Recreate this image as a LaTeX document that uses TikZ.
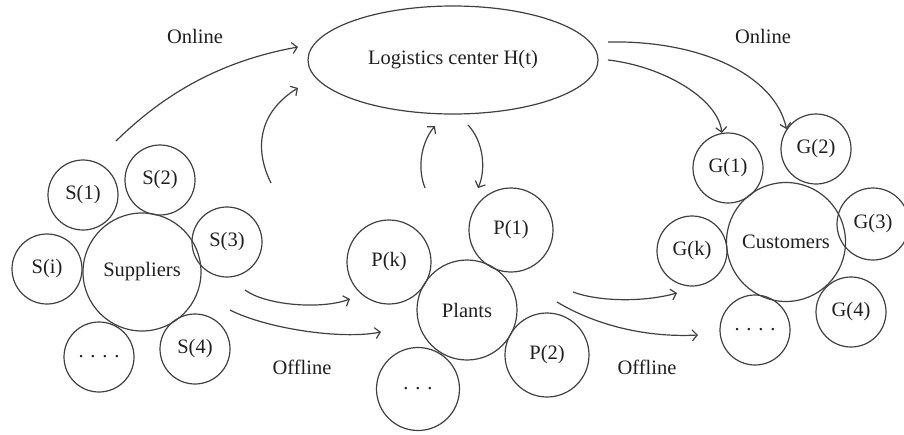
\documentclass[tikz,border=0pt]{standalone}
\usepackage{fontspec}
\setmainfont{Liberation Serif}
\usetikzlibrary{shapes.geometric,arrows.meta}
\begin{document}
\begin{tikzpicture}[x=1pt,y=-1pt,
  every node/.style={font=\fontsize{20.5}{24}\selectfont, text=black!88},
  bub/.style={draw=black!75, line width=1.2pt, circle, inner sep=0pt, minimum size=70pt},
  bigbub/.style={bub, minimum size=118pt},
  midbub/.style={bub, minimum size=84pt},
  hubstyle/.style={draw=black!75, line width=1.2pt, ellipse, inner sep=0pt, minimum width=290pt, minimum height=108pt},
  flow/.style={draw=black!75, line width=1.2pt, -{Straight Barb[length=5pt,width=11pt]}}]
\useasboundingbox (0,0) rectangle (904,434);

% logistics center
\node[hubstyle] (hub) at (453,60) {Logistics center H(t)};

% suppliers
\node[bigbub] (sup) at (142,272) {Suppliers};
\node[bub] (s1) at (83,195) {S(1)};
\node[bub] (s2) at (160,180) {S(2)};
\node[bub] (s3) at (227,242) {S(3)};
\node[bub] (si) at (47,269) {S(i)};
\node[bub] (sdots) at (99,357) {. . . .};
\node[bub] (s4) at (195,349) {S(4)};

% plants
\node[bub, minimum size=100pt] (pla) at (467,310) {Plants};
\node[midbub] (pk) at (389,262) {P(k)};
\node[midbub] (p1) at (511,230) {P(1)};
\node[midbub] (p2) at (547,355) {P(2)};
\node[midbub, minimum size=83pt] (pdots) at (418,389) {. . .};

% customers
\node[bigbub, minimum size=119pt] (cus) at (786,242) {Customers};
\node[bub] (g1) at (728,168) {G(1)};
\node[bub] (g2) at (816,149) {G(2)};
\node[bub, minimum size=72pt] (g3) at (873,224) {G(3)};
\node[bub] (gk) at (692,251) {G(k)};
\node[bub] (g4) at (851,312) {G(4)};
\node[bub] (gdots) at (755,330) {. . . .};

% labels
\node (onL) at (195,36) {Online};
\node (onR) at (763,36) {Online};
\node (offL) at (302,367) {Offline};
\node (offR) at (647,367) {Offline};

% free ends
\coordinate (a1s) at (116,141);
\coordinate (a1e) at (298,47);
\coordinate (a2s) at (271,183);
\coordinate (a2e) at (298,88);
\coordinate (a3s) at (425,188);
\coordinate (a3e) at (435,126);
\coordinate (a4s) at (468,125);
\coordinate (a4e) at (478,188);
\coordinate (a5s) at (608,42);
\coordinate (a6s) at (608,60);
\coordinate (b1s) at (245,290);
\coordinate (b1e) at (350,299);
\coordinate (b2s) at (230,310);
\coordinate (b2e) at (381,332);
\coordinate (c1s) at (573,292);
\coordinate (c1e) at (677,293);
\coordinate (c2s) at (557,302);
\coordinate (c2e) at (698,335);

% online arrows
\draw[flow] (a1s) .. controls (160,98) and (215,62) .. (a1e);
\draw[flow] (a2s) .. controls (252,145) and (262,110) .. (a2e);
\draw[flow] (a3s) .. controls (416,165) and (423,140) .. (a3e);
\draw[flow] (a4s) .. controls (484,142) and (486,170) .. (a4e);
\draw[flow] (a5s) .. controls (700,40) and (775,75) .. (g2.146);
\draw[flow] (a6s) .. controls (662,66) and (718,98) .. (g1.100);

% offline arrows
\draw[flow] (b1s) .. controls (265,305) and (320,310) .. (b1e);
\draw[flow] (b2s) .. controls (265,328) and (340,340) .. (b2e);
\draw[flow] (c1s) .. controls (600,302) and (645,302) .. (c1e);
\draw[flow] (c2s) .. controls (590,322) and (640,338) .. (c2e);
\end{tikzpicture}
\end{document}
